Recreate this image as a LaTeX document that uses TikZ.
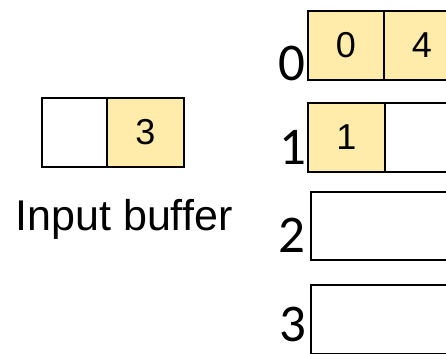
\documentclass[tikz,border=0pt]{standalone}
\usepackage{fontspec}
\setmainfont{Liberation Sans}
\newfontfamily\rowfont{Carlito}
\usetikzlibrary{%
	positioning,%
}
\definecolor{cyellow}{RGB}{255, 236, 170}
\newcommand{\cellfont}{\fontsize{36}{36}\selectfont}
\newcommand{\rowlabelfont}{\rowfont\fontsize{53}{53}\selectfont}
\newcommand{\captionfont}{\fontsize{43}{43}\selectfont}
\tikzset{
	cell/.style={%
			draw,%
			rectangle,%
			line width=1.4pt,%
			inner sep=0,%
			minimum width=76pt,%
			minimum height=69pt,%
			font=\cellfont},%
	fullcell/.style={%
			cell,%
			fill=cyellow},%
	rowlabel/.style={%
			inner sep=0,%
			anchor=base,%
			font=\rowlabelfont},%
}

\begin{document}
\begin{tikzpicture}[x=1pt, y=-1pt]%
	\useasboundingbox (0,0) rectangle (446,353);

	% input buffer
	\node[cell, minimum width=65pt] (in0) at (74.5,132.5) {};
	\node[fullcell, minimum width=77pt] (in1) at (145.5,132.5) {3};
	\node[inner sep=0, anchor=base, font=\captionfont] (incaption) at (124,230) {Input buffer};

	% rows
	\begin{scope}
		\clip (0,0) rectangle (446,353);
		\node[fullcell] (r0c0) at (346,45.5) {0};
		\node[fullcell] (r0c1) at (422,45.5) {4};

		\node[fullcell, minimum width=77pt] (r1c0) at (346.5,137.5) {1};
		\node[cell] (r1c1) at (423,137.5) {};

		\node[cell, minimum width=159pt, minimum height=68pt] (r2) at (390.5,226) {};
		\node[cell, minimum width=159pt] (r3) at (390.5,319.5) {};
	\end{scope}

	\node[rowlabel] (l0) at (291.5,80) {0};
	\node[rowlabel] (l1) at (292.5,164) {1};
	\node[rowlabel] (l2) at (292,252) {2};
	\node[rowlabel] (l3) at (292.5,341) {3};
\end{tikzpicture}
\end{document}
